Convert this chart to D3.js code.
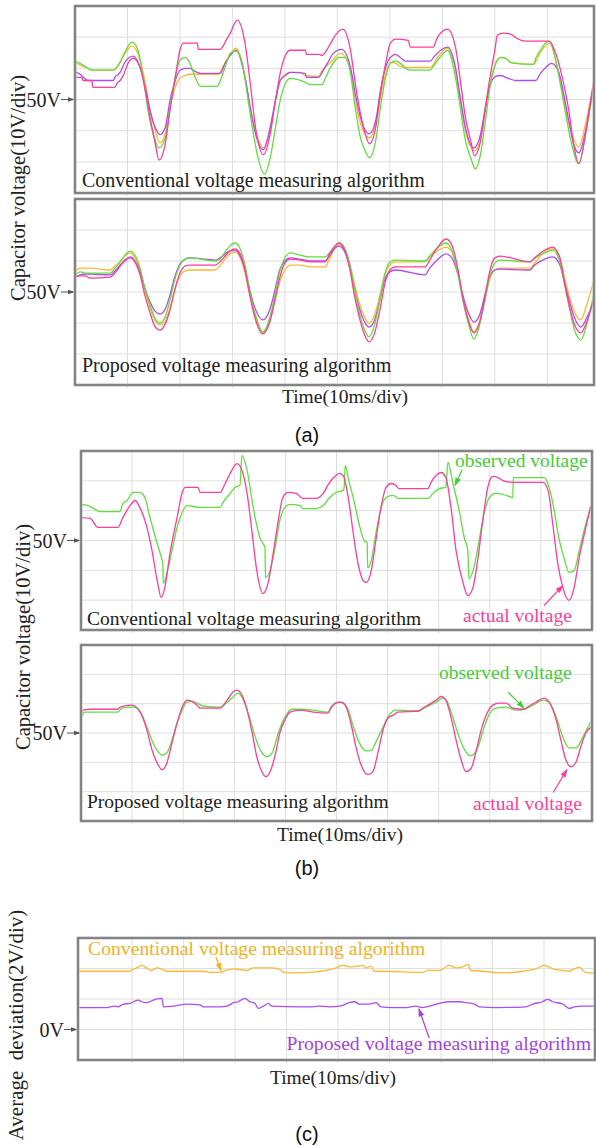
<!DOCTYPE html>
<html>
<head>
<meta charset="utf-8">
<script src="https://cdn.jsdelivr.net/npm/d3@7"></script>
<style>
  html, body { margin: 0; padding: 0; background: #fff; }
  svg { display: block; }
  text { font-family: "Liberation Serif", "Times New Roman", serif; }
</style>
</head>
<body>
<svg id="chart" width="596" height="1146"></svg>
<script>
// ---------- (a) upper: conventional algorithm, four capacitor voltages [ms, V] ----------
const convCap1 = [[0,61.9],[0.95,61.0],[2.5,60.0],[3.4,59.4],[7.3,59.4],[8.2,61.0],[9.5,64.8],[10.9,67.1],[12.4,62.6],[13.4,55.2],[14.3,46.5],[15.3,40.0],[16.2,36.1],[17.2,39.0],[18.1,47.4],[19.1,53.9],[20.0,56.8],[21.0,57.7],[21.9,58.1],[27.3,58.1],[28.1,60.3],[29.2,63.5],[30.7,66.5],[32.4,57.1],[33.4,47.4],[34.4,40.0],[35.9,34.5],[37.2,41.0],[38.2,49.7],[39.1,56.1],[40.1,58.1],[41.0,58.7],[42.9,58.7],[43.9,57.7],[46.4,57.4],[47.1,59.4],[48.7,61.9],[50.6,64.8],[52.5,59.4],[53.4,49.7],[54.4,42.3],[56.1,37.7],[57.3,42.3],[58.2,50.6],[59.2,58.4],[60.1,61.9],[61.1,61.6],[62.0,60.6],[63.0,60.3],[67.7,60.3],[69.1,63.5],[71.0,66.5],[72.5,59.4],[73.5,48.7],[74.4,40.0],[76.1,33.5],[77.3,37.7],[78.2,46.5],[79.2,56.1],[80.2,61.9],[81.1,63.5],[82.1,63.2],[83.0,61.9],[84.0,61.6],[87.4,61.3],[88.7,65.2],[90.5,68.1],[91.6,62.6],[92.6,55.2],[93.5,46.5],[94.5,40.0],[96.0,34.8],[97.3,42.3],[98.3,50.6],[99.0,57.1]];
const convCap2 = [[0,59.0],[0.95,58.1],[2.5,56.1],[7.3,56.1],[7.6,57.1],[8.6,58.7],[9.5,61.9],[11.1,63.9],[12.4,60.3],[13.4,53.9],[14.3,46.5],[15.3,41.0],[16.2,38.7],[17.2,41.0],[18.1,49.7],[19.1,56.1],[20.0,59.4],[21.0,60.0],[21.9,60.0],[22.9,59.0],[23.9,58.4],[27.7,58.4],[28.6,61.6],[29.6,64.2],[30.7,65.8],[32.4,57.1],[33.4,47.4],[34.4,39.0],[35.9,33.9],[37.2,41.0],[38.2,49.7],[39.1,56.1],[40.1,57.7],[41.0,58.7],[43.9,58.4],[44.1,57.1],[46.4,57.1],[47.1,58.7],[48.1,61.6],[49.2,64.8],[50.8,66.1],[52.5,60.3],[53.4,51.9],[54.4,44.2],[56.1,39.0],[57.3,43.2],[58.2,52.9],[59.2,60.3],[60.1,63.5],[61.1,64.5],[62.0,63.5],[63.0,62.3],[67.7,62.3],[68.3,63.5],[69.7,65.8],[71.0,66.8],[72.5,60.3],[73.5,49.7],[74.4,41.0],[76.0,34.5],[77.3,39.0],[78.2,47.4],[79.2,55.2],[80.2,57.4],[81.1,57.7],[82.1,57.1],[83.0,56.5],[84.0,56.1],[87.8,56.1],[88.7,58.4],[89.7,60.3],[90.8,61.6],[92.2,58.7],[93.1,51.9],[94.1,43.2],[95.0,35.8],[96.0,32.9],[97.3,40.0],[98.3,49.7],[99.0,56.1]];
const convCap3 = [[0,62.3],[0.95,61.6],[2.5,60.0],[3.4,59.4],[7.3,59.4],[8.0,60.3],[8.6,61.9],[9.5,65.2],[10.9,68.4],[12.0,65.8],[13.0,57.1],[13.9,46.5],[14.9,39.0],[16.0,34.5],[17.2,37.7],[18.1,47.4],[19.1,57.1],[20.0,62.6],[21.0,63.5],[21.9,61.6],[22.9,57.1],[23.9,54.2],[27.1,54.2],[27.7,56.1],[28.6,60.3],[29.6,64.8],[30.7,65.5],[31.9,61.6],[32.8,51.9],[33.8,41.0],[34.7,32.6],[36.1,26.1],[37.2,31.3],[38.2,41.0],[39.1,49.7],[40.1,55.2],[41.0,56.8],[43.9,55.5],[44.7,54.8],[47.1,54.8],[47.7,56.8],[48.7,60.3],[49.6,62.6],[50.2,63.5],[51.5,63.5],[52.5,58.4],[53.4,47.4],[54.4,37.7],[55.3,33.5],[56.1,31.3],[57.3,36.8],[58.2,47.4],[59.2,57.1],[60.1,61.6],[61.1,62.3],[62.0,61.6],[63.0,60.0],[63.9,59.4],[67.7,59.4],[68.1,60.3],[69.1,62.6],[70.2,64.8],[71.0,65.8],[72.5,57.1],[73.5,46.5],[74.4,36.8],[75.4,31.3],[76.3,27.7],[77.3,32.6],[78.2,43.2],[79.2,55.2],[80.2,61.6],[81.1,63.5],[82.1,63.2],[83.0,61.9],[84.0,61.6],[87.4,61.3],[87.8,63.2],[88.7,65.8],[89.7,68.1],[90.5,68.7],[91.6,62.6],[92.6,53.9],[93.5,45.5],[94.5,36.8],[96.0,29.4],[97.3,39.0],[98.3,48.7],[99.0,56.1]];
const convCap4 = [[0,57.1],[1.3,57.1],[1.5,56.1],[3.2,56.1],[3.4,53.9],[7.6,53.9],[8.0,55.2],[8.6,56.1],[9.2,57.7],[10.1,61.6],[11.1,63.2],[12.4,60.3],[13.4,52.9],[14.3,44.2],[15.3,35.8],[16.0,30.6],[17.2,35.8],[18.1,46.5],[19.1,57.1],[20.0,65.8],[20.6,68.1],[23.3,68.1],[23.5,66.1],[27.7,66.1],[28.1,66.8],[28.8,69.0],[29.6,71.3],[30.9,75.5],[32.4,68.1],[33.4,55.2],[34.4,41.0],[35.9,32.3],[37.2,39.0],[38.2,49.7],[39.1,58.4],[40.1,64.2],[41.0,65.8],[43.9,65.8],[44.1,64.5],[46.4,64.5],[47.1,64.2],[48.5,67.4],[49.6,70.6],[51.0,72.6],[52.5,65.8],[53.4,55.2],[54.4,45.5],[55.3,39.0],[56.1,35.8],[57.3,41.0],[58.2,51.9],[59.2,61.6],[60.1,68.1],[61.1,69.4],[63.5,69.0],[63.9,66.8],[68.3,66.8],[68.7,68.4],[69.1,70.0],[71.0,72.6],[72.5,66.8],[73.5,55.2],[74.4,44.2],[75.4,36.8],[76.1,31.9],[77.3,36.8],[78.2,47.4],[79.2,58.4],[80.0,65.8],[80.5,70.6],[81.5,71.3],[83.0,71.0],[84.4,69.4],[85.9,68.7],[90.3,68.7],[91.6,64.8],[93.1,55.2],[94.1,46.5],[95.0,35.8],[96.0,29.4],[97.3,39.0],[98.3,49.7],[99.0,57.1]];

// ---------- (a) lower: proposed algorithm, shared time base [ms] and voltages [V] ----------
const propTime = [0,1.0,1.9,2.9,6.7,7.6,8.6,9.5,10.5,11.4,12.4,13.3,14.3,15.2,16.2,17.1,18.1,19.0,20.0,21.0,21.9,26.7,27.6,28.6,29.5,30.5,31.4,32.4,33.3,34.3,35.8,37.1,38.1,39.0,40.0,41.0,42.9,44.8,47.6,48.6,49.5,50.3,51.4,52.4,53.3,54.3,55.2,56.0,57.1,58.1,59.0,60.0,61.0,66.7,67.6,69.0,70.7,71.8,73.0,73.9,74.9,76.0,77.1,78.1,79.0,80.0,81.0,86.7,87.6,89.5,91.0,92.4,93.3,94.3,95.2,96.4,97.5,98.9];
const propCap1 = [56.5,57.7,57.7,57.7,57.1,58.4,59.7,61.6,62.6,61.0,57.1,50.6,44.8,41.0,39.4,40.3,44.8,50.6,55.2,56.8,57.1,57.1,58.4,60.6,62.3,62.9,61.3,56.1,49.0,42.6,37.1,40.3,47.4,53.2,57.1,58.7,58.7,58.1,58.1,61.0,63.9,65.2,63.5,58.7,52.3,45.8,41.9,40.0,42.6,49.0,55.5,58.7,59.7,59.7,61.3,63.2,64.5,62.9,56.5,48.4,41.6,37.1,40.3,47.4,53.9,57.1,57.7,57.7,59.4,62.9,63.9,61.0,54.5,48.1,43.5,41.0,45.8,53.9];
const propCap2 = [54.8,55.5,55.8,55.8,55.5,56.8,58.7,60.3,61.3,60.0,56.5,51.3,46.8,43.9,42.9,44.2,49.0,54.8,59.0,60.6,61.0,60.3,61.0,62.3,63.2,63.5,61.9,57.1,50.6,44.8,41.0,44.2,50.6,57.1,60.0,61.0,60.6,60.0,60.0,61.9,64.2,64.8,62.9,57.7,50.6,44.2,40.3,38.7,41.0,47.4,53.9,56.5,57.1,55.5,57.7,60.3,62.3,61.0,55.5,49.0,43.5,40.3,42.6,49.0,54.8,57.1,57.4,57.1,58.7,60.6,61.3,58.7,52.9,46.5,41.6,38.7,41.6,47.4];
const propCap3 = [55.5,56.5,56.1,56.1,56.1,57.7,59.7,61.9,63.2,61.9,57.7,51.3,45.8,41.6,40.0,41.6,47.4,53.9,58.7,60.6,61.0,60.0,60.6,62.9,64.8,65.8,64.2,58.7,50.6,43.2,37.1,41.6,49.0,56.5,61.0,62.6,61.9,61.3,61.3,62.9,64.8,65.8,64.2,58.7,50.6,42.6,37.7,35.5,39.4,47.4,55.5,59.7,60.3,60.0,61.6,64.2,65.8,63.5,55.5,47.4,40.3,34.8,39.4,47.4,54.8,59.4,60.3,59.7,61.0,62.6,63.5,59.7,52.3,44.2,37.7,34.5,39.4,49.7];
const propCap4 = [54.8,55.2,55.2,54.5,54.8,56.1,58.4,60.0,61.0,59.7,55.5,49.0,43.2,39.0,37.7,39.4,44.2,50.6,56.1,58.4,58.7,58.7,59.7,61.6,63.2,63.9,62.6,57.1,49.0,41.6,36.5,40.3,47.4,54.5,59.4,60.6,60.3,59.7,59.7,62.6,64.8,65.8,63.5,57.1,48.4,41.0,36.1,33.9,36.8,44.2,52.3,57.1,58.1,58.1,60.3,64.2,67.1,65.2,57.1,48.1,41.0,36.8,40.3,48.1,56.5,61.0,61.6,59.7,61.0,63.5,64.5,61.0,52.9,44.8,39.4,36.8,40.3,48.1];

// ---------- (b) observed vs actual voltage of one capacitor [ms, V] ----------
const convObserved = [[0,62.1],[1.4,61.7],[3.1,60.1],[3.7,59.7],[7.6,59.7],[8.2,62.4],[9.0,63.4],[10.2,66.1],[11.5,66.1],[12.5,64.4],[13.5,57.7],[14.9,49.0],[15.9,43.3],[16.0,42.6],[16.1,35.6],[16.8,38.9],[17.8,46.6],[18.8,54.4],[19.8,59.4],[20.7,61.7],[23.3,61.1],[27.2,61.1],[27.8,62.8],[29.2,65.8],[30.1,67.8],[31.1,68.5],[31.5,78.5],[32.5,73.5],[33.7,61.1],[35.0,51.0],[35.6,49.0],[36.0,47.7],[36.1,37.6],[37.0,39.9],[38.0,47.7],[38.9,56.7],[39.9,61.1],[40.9,62.1],[42.9,61.7],[43.4,60.7],[46.0,60.7],[47.4,61.7],[48.5,64.1],[49.9,66.1],[51.3,66.8],[51.5,67.8],[51.7,75.2],[52.4,70.1],[53.4,63.4],[54.4,55.7],[55.4,50.0],[56.0,49.3],[56.1,40.9],[56.8,43.3],[57.7,52.3],[58.7,60.7],[59.7,64.4],[61.1,65.1],[62.2,64.1],[67.9,64.1],[68.9,65.8],[70.1,67.4],[71.4,67.8],[71.8,76.2],[72.8,69.1],[74.0,60.1],[75.0,51.0],[75.7,46.6],[75.9,37.2],[76.9,40.9],[77.9,50.0],[78.9,59.1],[79.8,64.1],[81.2,65.8],[83.8,64.8],[84.5,64.4],[84.6,71.1],[90.6,71.1],[91.6,67.8],[92.6,60.1],[93.5,51.0],[94.5,44.3],[95.5,39.3],[96.5,39.9],[97.5,46.6],[98.8,55.7],[99.8,61.7]];
const convActual = [[0,57.7],[1.8,57.4],[3.3,54.4],[7.2,54.4],[8.2,57.7],[9.6,61.7],[10.6,63.4],[11.5,61.1],[12.9,54.4],[13.9,46.6],[14.9,36.6],[15.7,30.9],[16.4,34.2],[17.4,45.6],[18.8,57.7],[19.8,66.1],[20.4,67.8],[22.9,67.8],[23.3,66.1],[27.2,66.1],[28.2,69.1],[29.2,72.5],[30.1,75.2],[30.5,75.8],[31.5,73.5],[32.5,65.8],[33.5,52.3],[34.4,39.9],[35.6,32.2],[36.6,35.6],[37.6,45.6],[38.6,56.7],[39.5,64.4],[40.5,66.1],[42.1,65.8],[43.4,64.1],[46.0,64.1],[47.4,65.8],[48.5,69.1],[49.9,71.8],[50.5,72.5],[51.3,71.8],[52.3,64.4],[53.2,53.4],[54.2,42.3],[55.2,36.6],[55.8,35.9],[56.8,39.9],[57.7,50.0],[58.7,61.1],[59.7,67.8],[60.7,69.1],[61.6,68.5],[62.2,67.4],[67.9,67.4],[68.5,69.5],[69.5,71.8],[70.5,72.8],[71.4,71.1],[72.4,61.1],[73.4,46.6],[74.8,35.6],[75.7,31.5],[76.7,34.2],[77.7,44.3],[78.7,57.7],[79.6,67.8],[80.6,71.5],[81.6,71.1],[82.6,70.1],[84.5,69.5],[90.4,69.5],[91.4,66.8],[92.4,54.4],[93.3,42.3],[94.3,34.2],[95.5,29.9],[96.5,34.2],[97.5,44.3],[98.8,54.4],[99.8,61.7]];
const propObserved = [[0,55.4],[0.8,57.1],[7.2,57.1],[8.0,58.5],[10.0,58.8],[11.0,58.5],[11.9,56.1],[12.9,52.0],[14.1,46.6],[15.9,42.5],[16.8,43.2],[17.8,47.6],[18.8,53.4],[19.8,57.8],[20.7,60.5],[21.7,60.8],[22.7,60.2],[23.9,59.2],[27.2,58.8],[28.6,60.5],[29.7,62.2],[30.7,63.6],[31.5,62.2],[32.7,56.8],[34.1,48.6],[35.4,43.2],[36.4,41.9],[37.4,43.2],[38.6,50.0],[39.9,55.4],[41.3,58.1],[42.9,58.1],[45.4,57.8],[48.3,57.1],[48.9,58.8],[50.3,60.5],[51.3,60.2],[52.3,57.8],[53.2,52.7],[54.4,46.9],[55.8,43.9],[56.8,44.2],[57.7,46.9],[59.1,52.0],[60.3,56.1],[61.6,57.8],[66.1,57.5],[67.5,58.8],[69.5,60.5],[70.8,61.9],[71.8,60.2],[72.8,55.1],[74.0,48.6],[75.3,43.6],[76.3,42.2],[77.7,45.3],[78.9,52.0],[79.8,56.1],[81.2,58.5],[83.2,58.8],[85.1,57.8],[86.7,58.1],[88.5,59.5],[90.4,61.2],[91.6,60.5],[93.0,55.4],[94.3,48.6],[95.5,44.9],[96.9,44.9],[98.2,48.6],[99.2,52.0],[100,54.4]];
const propActual = [[0,56.1],[0.4,57.8],[1.8,58.1],[7.2,58.1],[7.6,58.8],[10.0,59.5],[11.0,58.5],[11.9,56.1],[12.9,51.0],[13.9,44.2],[14.9,39.8],[15.9,37.5],[16.8,39.8],[17.8,46.6],[18.8,53.4],[19.8,58.8],[20.7,61.2],[21.7,60.8],[22.7,59.5],[23.3,58.5],[27.2,58.5],[28.6,61.2],[29.7,63.9],[30.5,64.6],[31.5,62.9],[32.5,57.8],[33.5,50.0],[34.4,41.9],[35.4,36.8],[36.2,35.1],[37.0,36.8],[38.0,42.5],[38.9,50.0],[39.9,54.4],[40.9,57.1],[42.9,57.8],[45.4,57.1],[48.3,56.8],[48.9,58.5],[49.9,60.2],[50.9,60.5],[51.9,58.8],[52.8,53.4],[53.8,45.3],[54.8,39.2],[56.2,35.8],[57.1,36.8],[58.1,43.2],[59.1,51.0],[60.1,55.1],[61.1,56.1],[62.0,57.1],[66.1,57.5],[66.9,58.5],[67.9,59.5],[69.5,61.2],[70.5,62.5],[71.4,61.2],[72.4,55.4],[73.4,47.6],[74.4,40.8],[75.3,36.8],[76.3,37.8],[77.3,43.6],[78.3,51.0],[79.3,56.1],[80.6,59.5],[81.8,60.2],[83.2,60.2],[84.5,58.5],[86.7,58.1],[87.7,59.2],[89.0,60.5],[90.6,61.9],[91.6,60.5],[93.0,54.4],[93.9,47.6],[94.9,40.8],[95.9,38.5],[96.9,40.2],[97.8,45.3],[98.8,50.0],[99.8,52.0]];

// ---------- (c) average deviation [ms, V] ----------
const devConv = [[-0.4,3.82],[9.6,3.82],[9.9,3.89],[10.9,4.04],[11.9,4.2],[12.8,4.04],[13.8,3.87],[14.8,4.04],[15.8,3.95],[16.4,3.87],[16.7,3.82],[23.2,3.82],[25.8,3.75],[27.1,3.75],[28.4,3.89],[29.7,3.98],[32.3,3.87],[33.6,4.04],[36.2,4.04],[37.4,4.04],[39.1,3.87],[39.4,3.75],[41.8,3.71],[45.7,3.78],[47.7,3.87],[49.6,4.04],[50.9,4.2],[52.2,4.11],[53.8,4.16],[54.8,4.2],[55.4,4.04],[56.4,4.16],[57.0,3.82],[58.7,3.82],[66.4,3.75],[67.7,3.89],[69.7,3.87],[71.6,4.2],[72.9,4.04],[74.2,4.11],[75.2,4.27],[75.8,3.87],[78.1,3.82],[82.0,3.71],[85.9,3.82],[88.4,3.98],[90.1,4.2],[91.7,3.98],[93.6,3.87],[94.9,3.82],[95.9,3.98],[96.9,4.09],[97.5,3.89],[98.2,3.71],[99.8,3.71]];
const devProp = [[-0.4,1.44],[5.1,1.44],[6.4,1.53],[7.3,1.49],[8.3,1.67],[9.6,1.71],[10.3,1.82],[11.2,1.93],[11.9,1.82],[12.8,1.76],[14.1,1.93],[15.1,2.02],[15.8,2.04],[16.1,1.49],[18.0,1.53],[20.6,1.67],[23.2,1.62],[23.8,1.49],[27.1,1.49],[28.4,1.53],[29.7,1.76],[30.6,1.82],[31.9,2.04],[32.9,1.82],[33.9,1.71],[34.5,1.38],[35.5,1.53],[36.5,1.71],[37.1,1.53],[42.6,1.49],[45.1,1.49],[46.4,1.53],[48.3,1.49],[50.3,1.53],[52.2,1.76],[53.2,1.82],[54.1,1.67],[56.1,1.67],[57.4,1.76],[58.3,1.49],[60.6,1.44],[63.2,1.44],[65.1,1.53],[66.4,1.44],[67.7,1.53],[69.7,1.71],[71.6,1.82],[73.6,1.82],[74.9,1.76],[76.5,1.67],[77.4,1.49],[80.7,1.44],[86.5,1.49],[87.8,1.67],[89.7,1.82],[90.7,1.98],[91.7,1.82],[93.6,1.67],[94.9,1.38],[95.9,1.49],[97.5,1.53],[99.8,1.53]];

// ---------- labels ----------
const voltTitle = "Capacitor voltage(10V/div)";
const devTitle = "Average  deviation(2V/div)";
const timeTitle = "Time(10ms/div)";
const convName = "Conventional voltage measuring algorithm";
const propName = "Proposed voltage measuring algorithm";

// ---------- drawing ----------
const COL = { orange: "#ffb732", purple: "#b04af2", green: "#5ee03c", pink: "#ff3d9c" };
const svg = d3.select("#chart");
svg.append("rect").attr("width", 596).attr("height", 1146).attr("fill", "#fff");
const defs = svg.append("defs");
const arrowTip = (id, color) => defs.append("marker").attr("id", id)
  .attr("viewBox", "0 0 10 10").attr("refX", 9).attr("refY", 5)
  .attr("markerWidth", 7).attr("markerHeight", 7).attr("orient", "auto-start-reverse")
  .append("path").attr("d", "M0,1.5 L10,5 L0,8.5 Z").attr("fill", color);
arrowTip("tipGray", "#555");
arrowTip("tipGreen", "#3fcf36");
arrowTip("tipPink", "#ff3d9c");
arrowTip("tipOrange", "#f4b023");
arrowTip("tipPurple", "#a43fe8");

let clipN = 0;
function panel(x, y, tTicks, vTicks, refV, refLabel) {
  const [x0, x1] = x.range(), [y1, y0] = y.range();
  const g = svg.append("g");
  const id = "clip" + (clipN++);
  defs.append("clipPath").attr("id", id).append("rect")
    .attr("x", x0).attr("y", y0).attr("width", x1 - x0).attr("height", y1 - y0);
  // oscilloscope grid
  g.selectAll(".gv").data(tTicks).join("line")
    .attr("x1", d => x(d)).attr("x2", d => x(d)).attr("y1", y0).attr("y2", y1 + 3)
    .attr("stroke", "#dedede").attr("stroke-width", 1);
  g.selectAll(".gh").data(vTicks).join("line")
    .attr("x1", x0).attr("x2", x1).attr("y1", d => y(d)).attr("y2", d => y(d))
    .attr("stroke", "#dedede").attr("stroke-width", 1);
  // reference marker on the left
  const yr = y(refV);
  g.append("text").attr("x", x0 - 14).attr("y", yr + 7).attr("text-anchor", "end")
    .attr("font-size", 20).attr("fill", "#222").text(refLabel);
  g.append("line").attr("x1", x0 - 14).attr("x2", x0 - 1).attr("y1", yr).attr("y2", yr)
    .attr("stroke", "#555").attr("stroke-width", 1).attr("marker-end", "url(#tipGray)");
  const plot = g.append("g").attr("clip-path", `url(#${id})`);
  const frame = () => {
    g.append("rect").attr("x", x0).attr("y", y0).attr("width", x1 - x0).attr("height", y1 - y0)
      .attr("fill", "none").attr("stroke", "#c4c4c4").attr("stroke-width", 3.2);
    g.append("rect").attr("x", x0).attr("y", y0).attr("width", x1 - x0).attr("height", y1 - y0)
      .attr("fill", "none").attr("stroke", "#6a6a6a").attr("stroke-width", 1.4);
  };
  return { g, plot, frame };
}
function trace(p, x, y, pts, color, w = 1.3) {
  p.plot.append("path").datum(pts)
    .attr("d", d3.line().x(d => x(d[0])).y(d => y(d[1])).curve(d3.curveMonotoneX))
    .attr("fill", "none").attr("stroke", color).attr("stroke-width", w)
    .attr("stroke-linejoin", "round");
}
function label(x, yb, txt, size, color, anchor = "start") {
  return svg.append("text").attr("x", x).attr("y", yb).attr("font-size", size)
    .attr("fill", color).attr("text-anchor", anchor).attr("xml:space", "preserve").text(txt);
}
function vTitle(x, yc, txt, size) {
  svg.append("text").attr("transform", `translate(${x},${yc}) rotate(-90)`)
    .attr("text-anchor", "middle").attr("font-size", size).attr("fill", "#222")
    .attr("xml:space", "preserve").style("white-space", "pre").text(txt);
}
function pointer(x, y, from, to, marker, color) {
  svg.append("line").attr("x1", x(from[0])).attr("y1", y(from[1]))
    .attr("x2", x(to[0])).attr("y2", y(to[1]))
    .attr("stroke", color).attr("stroke-width", 1.2).attr("marker-end", `url(#${marker})`);
}
const zip = (t, v) => t.map((d, i) => [d, v[i]]);
const tDiv = d3.range(10, 100, 10);
const vDiv = [30, 40, 50, 60, 70];

// (a)
const aX = d3.scaleLinear().domain([0, 98.9]).range([75, 594]);
const aTopY = d3.scaleLinear().domain([20, 80]).range([193, 6]);
const aBotY = d3.scaleLinear().domain([20, 80]).range([385, 199]);
const pa1 = panel(aX, aTopY, tDiv, vDiv, 50, "50V");
[[convCap1, COL.orange], [convCap2, COL.purple], [convCap3, COL.green], [convCap4, COL.pink]]
  .forEach(([d, c]) => trace(pa1, aX, aTopY, d, c));
pa1.frame();
const pa2 = panel(aX, aBotY, tDiv, vDiv, 50, "50V");
[[propCap1, COL.orange], [propCap2, COL.purple], [propCap3, COL.green], [propCap4, COL.pink]]
  .forEach(([v, c]) => trace(pa2, aX, aBotY, zip(propTime, v), c));
pa2.frame();
label(82, 187, convName, 20, "#222");
label(82, 372, propName, 20, "#222");
vTitle(25, 188, voltTitle, 20.5);
label(345, 403, timeTitle, 19.5, "#222", "middle");
label(307, 442, "(a)", 20, "#111", "middle").style("font-family", "'Liberation Sans', Arial, sans-serif");

// (b)
const bX = d3.scaleLinear().domain([0, 100]).range([81, 592]);
const bTopY = d3.scaleLinear().domain([20, 80]).range([630, 451]);
const bBotY = d3.scaleLinear().domain([20, 80]).range([821, 645]);
const pb1 = panel(bX, bTopY, tDiv, vDiv, 50, "50V");
trace(pb1, bX, bTopY, convObserved, COL.green);
trace(pb1, bX, bTopY, convActual, COL.pink);
pb1.frame();
const pb2 = panel(bX, bBotY, tDiv, vDiv, 50, "50V");
trace(pb2, bX, bBotY, propObserved, COL.green);
trace(pb2, bX, bBotY, propActual, COL.pink);
pb2.frame();
label(87, 625, convName, 19.5, "#222");
label(87, 808, propName, 19.5, "#222");
label(455, 467, "observed voltage", 19.5, "#3fcf36");
label(463, 622, "actual voltage", 19.5, "#ff3d9c");
label(439, 679, "observed voltage", 19.5, "#3fcf36");
label(473, 810, "actual voltage", 19.5, "#ff3d9c");
pointer(bX, bTopY, [74.6, 73.8], [73.2, 68.5], "tipGreen", "#3fcf36");
pointer(bX, bTopY, [90.6, 28.2], [94.3, 34.9], "tipPink", "#ff3d9c");
pointer(bX, bBotY, [83.6, 63.9], [86.7, 58.5], "tipGreen", "#3fcf36");
pointer(bX, bBotY, [92.4, 29.7], [95.1, 37.5], "tipPink", "#ff3d9c");
vTitle(30, 637, voltTitle, 20.5);
label(340, 841, timeTitle, 19.5, "#222", "middle");
label(307, 875, "(b)", 20, "#111", "middle").style("font-family", "'Liberation Sans', Arial, sans-serif");

// (c)
const cX = d3.scaleLinear().domain([-0.5, 99.9]).range([78, 595]);
const cY = d3.scaleLinear().domain([-2, 6]).range([1060, 938]);
const pc = panel(cX, cY, tDiv, [0, 2, 4], 0, "0V");
trace(pc, cX, cY, devConv, COL.orange);
trace(pc, cX, cY, devProp, COL.purple);
pc.frame();
label(88, 955, convName, 19.7, "#f4b023");
label(591, 1050, propName, 19.7, "#a43fe8", "end");
pointer(cX, cY, [26.3, 4.75], [27.3, 3.85], "tipOrange", "#f4b023");
pointer(cX, cY, [67.7, -0.56], [65.7, 1.35], "tipPurple", "#a43fe8");
vTitle(23, 1025, devTitle, 21);
label(333, 1084, timeTitle, 19.5, "#222", "middle");
label(307, 1141, "(c)", 20, "#111", "middle").style("font-family", "'Liberation Sans', Arial, sans-serif");
</script>
</body>
</html>
